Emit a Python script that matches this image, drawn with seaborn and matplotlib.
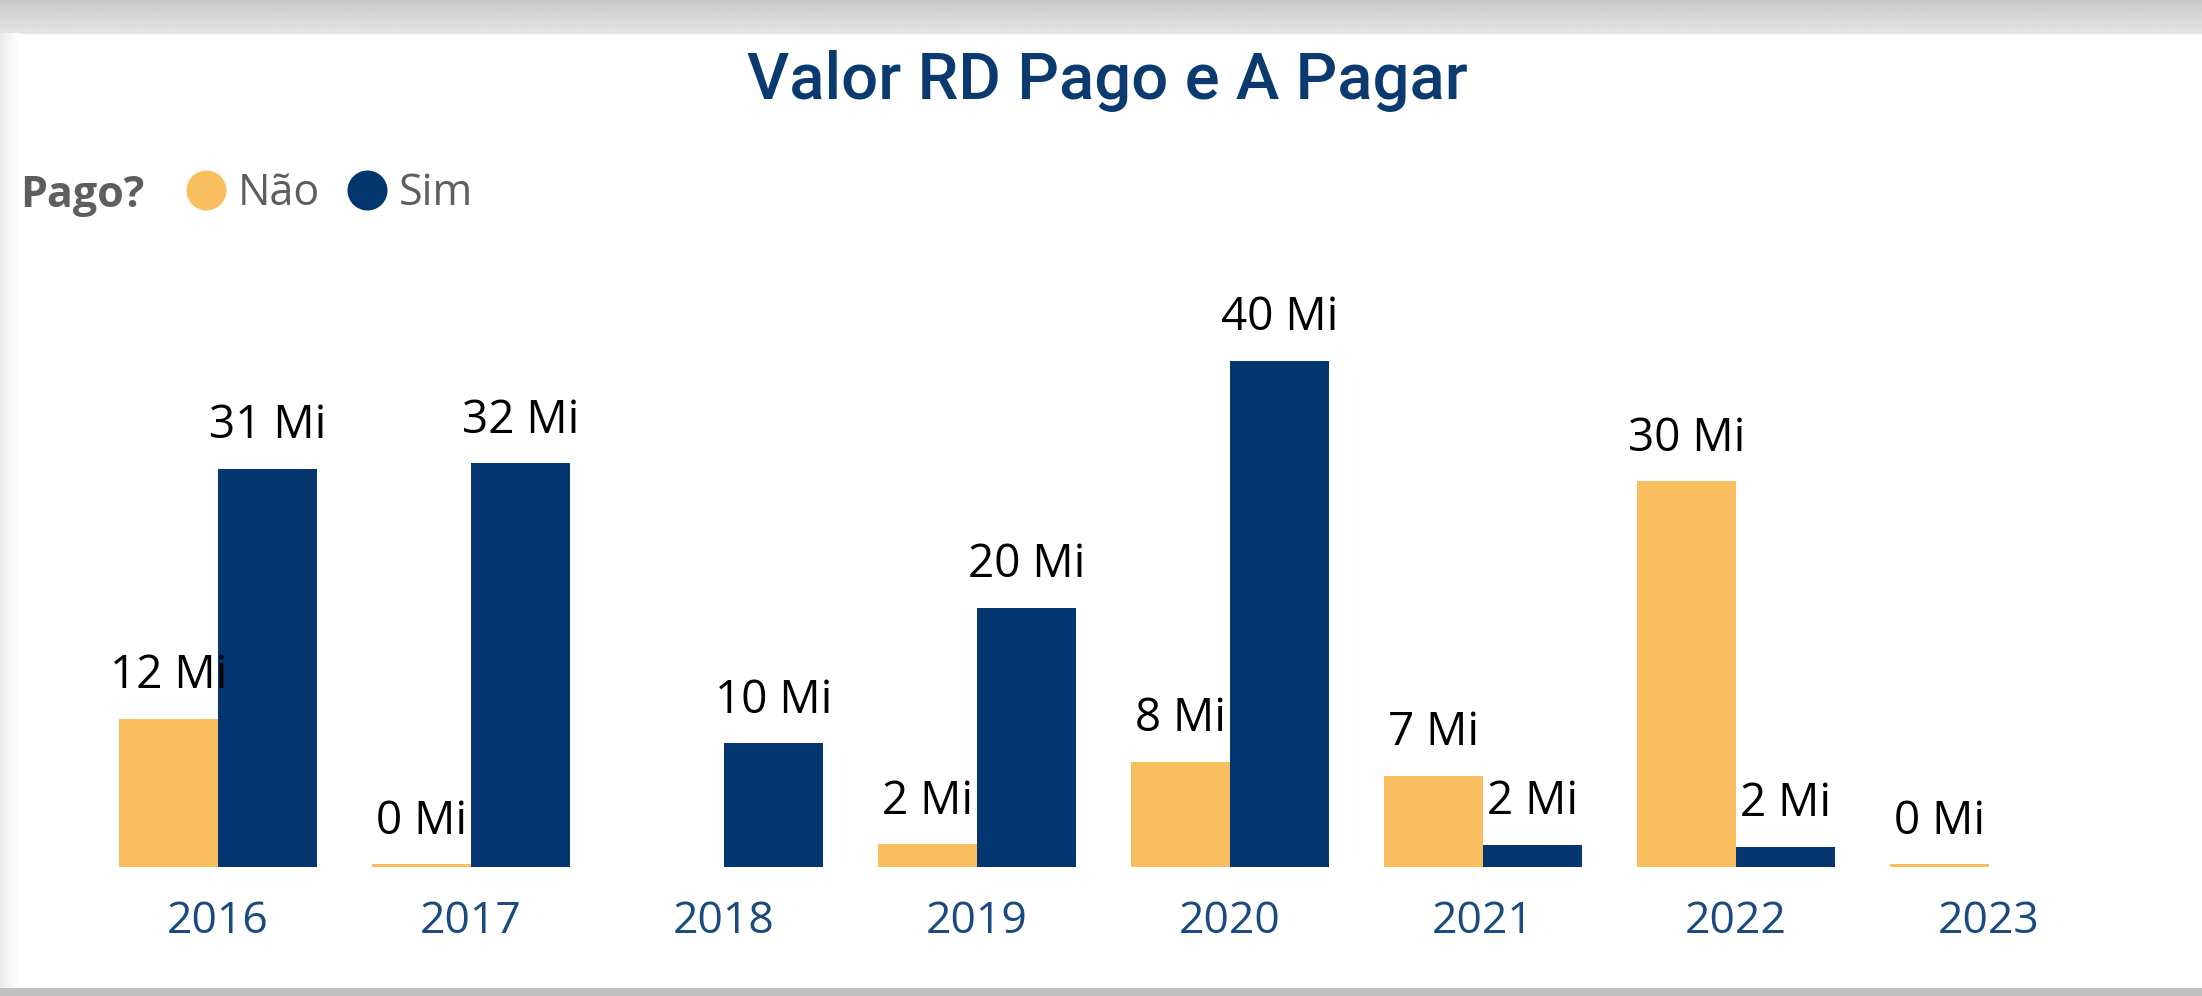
import matplotlib
matplotlib.use("Agg")
import matplotlib.pyplot as plt
import numpy as np
import pandas as pd
import seaborn as sns
from matplotlib.lines import Line2D
from matplotlib.patches import Rectangle

# Values in millions
anos = ["2016", "2017", "2018", "2019", "2020", "2021", "2022", "2023"]
nao = [11.7, 0.24, np.nan, 1.83, 8.3, 7.2, 30.4, 0.24]
sim = [31.4, 31.8, 9.76, 20.45, 39.9, 1.78, 1.62, np.nan]
grupos = ["Não", "Sim"]

AMARELO = "#F8BE5F"
AZUL = "#03366F"
CINZA = "#605E5C"
AZUL_TICK = "#1A4B80"

df = pd.DataFrame({
    "Ano": anos * 2,
    "Pago?": ["Não"] * len(anos) + ["Sim"] * len(anos),
    "Valor": nao + sim,
})

sns.set_theme(style="white")
plt.rcParams["font.family"] = ["Open Sans", "DejaVu Sans"]

W, H = 2202, 996
fig = plt.figure(figsize=(W / 100, H / 100), dpi=100)
fig.patch.set_facecolor("white")

# card background / shadow bands
bg = fig.add_axes([0, 0, 1, 1], zorder=-10)
bg.axis("off")
grad = np.linspace(0.78, 0.90, 34)[:, None] * np.ones((1, 10))
bg.imshow(grad, cmap="gray", vmin=0, vmax=1, aspect="auto",
          extent=[0, 1, 1 - 34 / H, 1], transform=bg.transAxes)
left = np.linspace(0.92, 1.0, 20)[None, :] * np.ones((10, 1))
bg.imshow(left, cmap="gray", vmin=0, vmax=1, aspect="auto",
          extent=[0, 20 / W, 8 / H, 1 - 34 / H], transform=bg.transAxes)
bg.add_patch(Rectangle((0, 0), 1, 8 / H, transform=bg.transAxes,
                       color="#C0C0C0", lw=0))
bg.set_xlim(0, 1)
bg.set_ylim(0, 1)

px_per_mi = 12.7
ax_h = 0.674
ax = fig.add_axes([91.5 / W, 128.7 / H, 2024 / W, ax_h])
ax.set_facecolor("none")

sns.barplot(data=df, x="Ano", y="Valor", hue="Pago?", order=anos,
            hue_order=grupos, palette={"Não": AMARELO, "Sim": AZUL},
            saturation=1, width=0.783, legend=False, ax=ax,
            edgecolor="none", linewidth=0)

ax.set_xlim(-0.5, len(anos) - 0.5)
ax.set_ylim(0, ax_h * H / px_per_mi)

for cont in ax.containers:
    labels = [f"{v:.0f} Mi" for v in cont.datavalues]
    ax.bar_label(cont, labels=labels, padding=14, fontsize=33, color="black")

sns.despine(ax=ax, left=True, bottom=True)
ax.set_yticks([])
ax.set_xlabel("")
ax.set_ylabel("")
ax.tick_params(axis="x", length=0, pad=23, labelsize=32, labelcolor=AZUL_TICK)

# title
fig.text(1107 / W, 1 - 99 / H, "Valor RD Pago e A Pagar", ha="center",
         va="baseline", fontsize=47, color="#0A3A70",
         family=["Roboto", "DejaVu Sans"], fontweight="medium")

# legend
fig.text(20 / W, 1 - 207 / H, "Pago?", ha="left", va="baseline",
         fontsize=31, fontweight="bold", color=CINZA)
handles = [Line2D([], [], marker="o", ls="none", markersize=28.8,
                  markerfacecolor=c, markeredgecolor="none")
           for c in (AMARELO, AZUL)]
fig.legend(handles, grupos, loc="center left",
           bbox_to_anchor=(184 / W, 1 - 194 / H), ncol=2, frameon=False,
           fontsize=31, labelcolor=CINZA, handlelength=1.0,
           handletextpad=0.25, columnspacing=0.58, borderpad=0,
           borderaxespad=0)

fig.savefig("out.png", dpi=100)
